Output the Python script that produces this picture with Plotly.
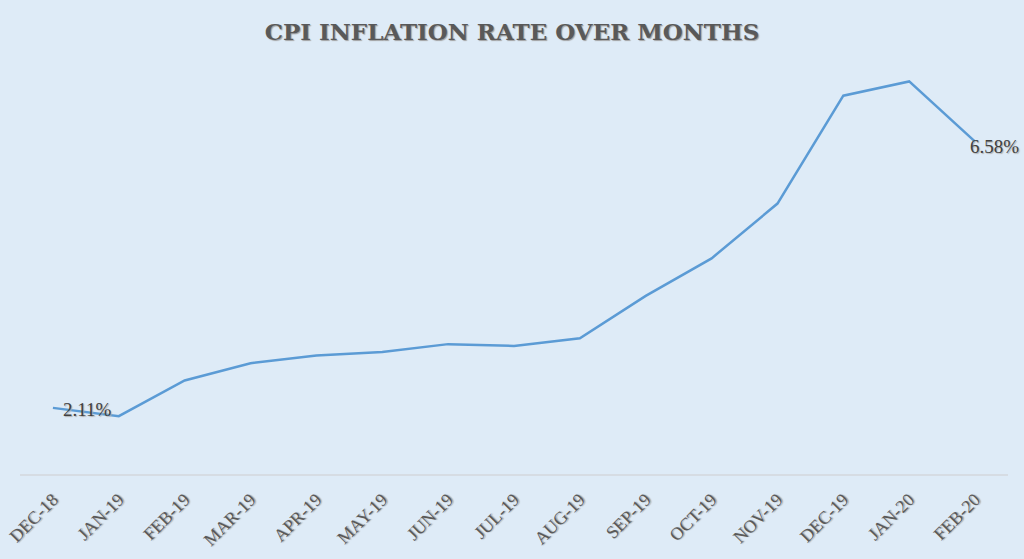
import plotly.graph_objects as go

months = ["DEC-18", "JAN-19", "FEB-19", "MAR-19", "APR-19", "MAY-19", "JUN-19", "JUL-19",
          "AUG-19", "SEP-19", "OCT-19", "NOV-19", "DEC-19", "JAN-20", "FEB-20"]
cpi = [2.11, 1.97, 2.57, 2.86, 2.99, 3.05, 3.18, 3.15, 3.28, 3.99, 4.62, 5.54, 7.35, 7.59, 6.58]

fig = go.Figure()
fig.add_trace(go.Scatter(
    x=months, y=cpi, mode="lines",
    line=dict(color="#5B9BD5", width=2.5),
    cliponaxis=False, hoverinfo="x+y",
))

label_font = dict(family="Liberation Serif", size=19, color="#404040",
                  shadow="1px 1px 1px #B0B0B0")
fig.add_annotation(x=months[0], y=cpi[0], text=f"{cpi[0]:.2f}%", showarrow=False,
                   xanchor="left", yanchor="middle", xshift=8, yshift=-2, font=label_font)
fig.add_annotation(x=months[-1], y=cpi[-1], text=f"{cpi[-1]:.2f}%", showarrow=False,
                   xanchor="left", yanchor="middle", xshift=-7, yshift=-5, font=label_font)

fig.update_layout(
    width=1024, height=559,
    paper_bgcolor="#DEEBF7", plot_bgcolor="#DEEBF7",
    margin=dict(l=20, r=16, t=57, b=85),
    showlegend=False,
    title=dict(text="CPI INFLATION RATE OVER MONTHS", x=0.5, xanchor="center",
               y=0.943, yanchor="middle",
               font=dict(family="DejaVu Serif", size=23, color="#595959", weight="bold",
                         shadow="1px 1px 1px #A0A0A0")),
    xaxis=dict(type="category", range=[-0.5, len(months) - 0.5], tickangle=-45,
               showgrid=False, showline=True,
               linecolor="#D6DCE3", linewidth=2, ticks="outside", ticklen=6,
               tickcolor="rgba(0,0,0,0)", automargin=False,
               tickfont=dict(family="Liberation Serif", size=18, color="#595959",
                             shadow="1px 1px 1px #A8A8A8")),
    yaxis=dict(range=[1, 8], visible=False, showgrid=False, zeroline=False),
)

fig.write_html("out.html", config={"displayModeBar": False},
               post_script="document.body.style.margin='0';")
